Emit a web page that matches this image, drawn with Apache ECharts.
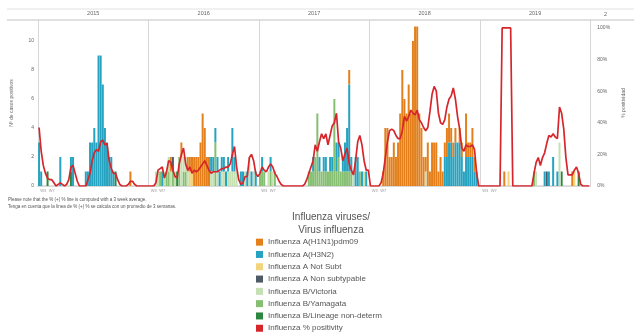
<!DOCTYPE html>
<html>
<head>
<meta charset="utf-8">
<script src="https://cdn.jsdelivr.net/npm/echarts@6/dist/echarts.min.js"></script>
<style>
html,body{margin:0;padding:0;background:#fff;}
#c{width:634px;height:332px;}
</style>
</head>
<body>
<div id="c"></div>
<script>
// ---- data ----
const years = ['2015', '2016', '2017', '2018', '2019'];
const WEEKS = 52;

// % positivity (3-week average), weeks 1..52 per year
const pct2015 = [37,22,13,8,5,4,4,2,0,1, 2,1,0,1,4,12,13,8,3,0, 0,0,0,4,8,16,21,23,22,28, 29,26,27,16,11,8,8,4,1,0, 0,0,1,3,3,1,0,0,0,0, 0,0];
const pct2016 = [0,0,0,2,10,11,12,5,9,16, 15,10,6,5,14,20,24,14,10,12, 8,10,9,10,12,14,16,13,10,8, 9,9,9,10,11,11,12,12,14,20, 25,12,4,1,2,6,6,18,20,16, 8,6];
const pct2017 = [8,12,10,9,12,14,12,8,6,3, 1,0,0,0,0,0,0,0,0,0, 0,1,4,8,12,16,26,22,28,33, 30,33,26,32,38,40,46,28,24,16, 20,24,14,10,7,16,28,32,26,16, 10,10];
const pct2018 = [0,0,0,0,0,2,8,18,28,35, 36,35,32,30,30,35,44,41,44,48, 46,45,48,42,40,37,35,37,47,58, 63,60,46,40,39,42,50,55,57,62, 55,44,36,24,22,26,25,25,26,23, 8,0];
const pct2019 = [0,0,0,0,0,0,0,0,0,0, 100,100,100,100,100,0,0,0,0,0, 0,0,0,0,0,8,15,18,13,18, 21,27,32,31,33,31,30,50,46,36, 18,7,7,7,10,12,8,1,0,0, 0,0];

// positive detections: [year, week, count]
const h1n1 = [
  [2015,44,1],
  [2016,11,1],[2016,16,1],[2016,19,1],[2016,20,1],[2016,21,1],[2016,22,2],[2016,23,2],[2016,24,2],[2016,25,3],[2016,26,5],[2016,27,4],[2016,28,2],[2016,29,2],
  [2017,43,1],
  [2018,7,1],[2018,8,4],[2018,9,4],[2018,10,2],[2018,11,2],[2018,12,3],[2018,13,2],[2018,14,3],[2018,15,5],[2018,16,8],
  [2018,17,6],[2018,18,5],[2018,19,7],[2018,20,5],[2018,21,10],[2018,22,11],[2018,23,11],[2018,24,5],[2018,25,4],[2018,26,2],
  [2018,27,1],[2018,28,3],[2018,29,1],[2018,30,3],[2018,31,3],[2018,32,3],[2018,33,1],[2018,34,2],[2018,35,1],[2018,36,1],
  [2018,37,2],[2018,38,2],[2018,39,1],[2018,40,1],[2018,41,1],[2018,43,1],[2018,44,1],[2018,46,3],[2018,47,1],[2018,48,1],
  [2018,49,2],[2018,50,1],
  [2019,12,1],[2019,44,1]
];
const h3n2 = [
  [2015,1,3],[2015,2,1],[2015,11,2],[2015,16,1],[2015,17,2],[2015,23,1],[2015,24,1],[2015,25,3],[2015,26,3],[2015,27,4],
  [2015,28,3],[2015,29,9],[2015,30,9],[2015,31,7],[2015,32,4],[2015,33,3],[2015,34,2],[2015,35,2],[2015,36,1],
  [2016,7,1],[2016,30,1],[2016,31,1],[2016,32,1],[2016,33,1],[2016,34,1],[2016,35,1],[2016,36,1],[2016,37,1],[2016,38,1],[2016,40,3],
  [2016,41,1],[2016,44,1],[2016,45,1],[2016,47,1],[2016,49,1],[2016,51,1],
  [2017,2,1],[2017,6,1],[2017,26,1],[2017,29,1],[2017,31,1],[2017,32,1],[2017,34,1],[2017,35,1],[2017,37,2],[2017,38,1],
  [2017,40,1],[2017,41,2],[2017,42,3],[2017,43,6],[2017,44,1],[2017,46,2],[2017,47,2],[2017,49,1],[2017,51,1],
  [2018,36,2],[2018,37,2],[2018,38,3],[2018,39,3],[2018,40,2],[2018,41,3],[2018,42,3],[2018,43,3],[2018,44,2],[2018,45,1],
  [2018,46,2],[2018,47,2],[2018,48,2],[2018,49,2],[2018,50,1],[2018,51,1],
  [2019,31,1],[2019,33,1],[2019,35,2],[2019,37,1]
];
const aNotSubt = [[2016,20,1],[2016,21,1],[2019,14,1],[2019,45,1]];
const aNonSubtypable = [[2016,12,1],[2019,32,1]];
const bVictoria = [
  [2016,4,1],[2016,5,1],[2016,8,1],[2016,10,1],[2016,11,1],[2016,13,1],[2016,16,2],[2016,17,1],[2016,18,1],[2016,19,1],
  [2016,30,1],[2016,31,1],[2016,33,1],[2016,35,1],[2016,36,1],[2016,38,1],[2016,39,1],[2016,40,1],[2016,41,1],[2016,42,1],
  [2016,46,1],[2016,48,2],[2016,50,1],
  [2017,5,1],[2017,7,1],[2017,45,1],[2017,50,1],
  [2018,27,1],
  [2019,27,1],[2019,38,3]
];
const bYamagata = [
  [2016,6,1],[2016,9,1],[2016,10,1],[2016,12,1],[2016,15,2],[2016,17,1],[2016,18,1],[2016,32,3],
  [2017,1,1],[2017,2,1],[2017,3,1],[2017,6,1],[2017,8,1],[2017,24,1],[2017,25,1],[2017,26,1],[2017,27,2],[2017,28,5],
  [2017,29,1],[2017,30,1],[2017,31,1],[2017,32,1],[2017,33,1],[2017,34,1],[2017,35,1],[2017,36,6],[2017,37,1],[2017,38,2],
  [2017,39,1],[2017,40,1],[2017,41,1],[2017,42,1],[2017,43,1],[2017,44,1],[2017,48,1],
  [2019,26,1]
];
const bLineageND = [[2015,5,1],[2015,16,1],[2015,37,1],[2016,14,1],[2019,39,1],[2019,47,1]];

const seriesNames = [
  'Influenza A(H1N1)pdm09', 'Influenza A(H3N2)', 'Influenza A Not Subt', 'Influenza A Non subtypable',
  'Influenza B/Victoria', 'Influenza B/Yamagata', 'Influenza B/Lineage non-determ', 'Influenza % positivity'
];
const colors = ['#E3801C', '#26A3C0', '#F2D47E', '#4E5A66', '#C5E1B3', '#86BF72', '#2E8740', '#D7262B'];

const notes = [
  'Please note that the % (+) % line is computed with a 3 week average.',
  'Tenga en cuenta que la línea de % (+) % se calcula con un promedio de 3 semanas.'
];

// ---- build ----
const weekCats = [];
years.forEach(y => { for (let w = 1; w <= WEEKS; w++) weekCats.push(y + '-W' + w); });
function toSeries(list) {
  const arr = new Array(years.length * WEEKS).fill(0);
  list.forEach(([y, w, v]) => { arr[years.indexOf(String(y)) * WEEKS + (w - 1)] = v; });
  return arr;
}
const pctAll = [].concat(pct2015, pct2016, pct2017, pct2018, pct2019);

const stackOrder = [
  [6, bLineageND], [5, bYamagata], [4, bVictoria], [3, aNonSubtypable], [2, aNotSubt], [1, h3n2], [0, h1n1]
];
const series = stackOrder.map(([i, list]) => ({
  name: seriesNames[i], type: 'bar', stack: 'v', xAxisIndex: 0, yAxisIndex: 0,
  barCategoryGap: '6%', itemStyle: { color: colors[i] }, data: toSeries(list)
}));
series.push({
  name: seriesNames[7], type: 'line', xAxisIndex: 0, yAxisIndex: 1, symbol: 'none', z: 5,
  lineStyle: { color: colors[7], width: 1.7 }, itemStyle: { color: colors[7] }, data: pctAll
});

const font = 'Liberation Sans, Arial, sans-serif';
const legendText = { fontSize: 8, color: '#555', lineHeight: 12.3, fontFamily: font };
const chart = echarts.init(document.getElementById('c'), null, { renderer: 'canvas' });
chart.setOption({
  animation: false,
  textStyle: { fontFamily: font },
  title: {
    text: 'Influenza viruses/\nVirus influenza', left: 326, top: 206, textAlign: 'center',
    textStyle: { fontSize: 10, fontWeight: 'normal', color: '#555', lineHeight: 13, fontFamily: font }
  },
  legend: [
    {
      data: seriesNames.slice(0, 7), orient: 'vertical', left: 256, top: 236, padding: 0,
      itemWidth: 7, itemHeight: 7, itemGap: 0, icon: 'rect', textStyle: legendText
    },
    {
      data: seriesNames.slice(7), orient: 'vertical', left: 256, top: 236 + 7 * 12.3, padding: 0,
      itemWidth: 7, itemHeight: 7, itemGap: 0, icon: 'rect', textStyle: legendText
    }
  ],
  grid: { left: 38, right: 31, top: 20, bottom: 146 },
  xAxis: [
    {
      type: 'category', data: weekCats, position: 'bottom', boundaryGap: true,
      axisLine: { show: true, lineStyle: { color: '#dcdcdc' } },
      axisTick: { show: false },
      axisLabel: {
        fontSize: 4, color: '#999', margin: 3,
        interval: (i) => (i % WEEKS === 2 || i % WEEKS === 6),
        formatter: (v, i) => 'W' + ((i % WEEKS) + 1)
      },
      splitLine: { show: false }
    },
    {
      type: 'category', data: years, position: 'top', boundaryGap: true,
      axisLine: { show: true, lineStyle: { color: '#d6d6d6', width: 1.5 } },
      axisTick: { show: true, length: 11, lineStyle: { color: '#d6d6d6' } },
      axisLabel: { fontSize: 5.5, color: '#666', margin: 4 },
      splitLine: { show: true, lineStyle: { color: '#d6d6d6' } }
    }
  ],
  yAxis: [
    {
      type: 'value', min: 0, max: 11.45, interval: 2, position: 'left',
      axisLine: { show: true, lineStyle: { color: '#d6d6d6' } }, axisTick: { show: false },
      axisLabel: { fontSize: 5, color: '#666', margin: 4, showMaxLabel: false },
      splitLine: { show: false },
      name: 'Nº de casos positivos', nameLocation: 'middle', nameGap: 24,
      nameTextStyle: { fontSize: 5, color: '#666' }
    },
    {
      type: 'value', min: 0, max: 105, interval: 20, position: 'right',
      axisLine: { show: true, lineStyle: { color: '#d6d6d6' } }, axisTick: { show: false },
      axisLabel: { fontSize: 5, color: '#666', margin: 7, showMaxLabel: false, formatter: '{value}%' },
      splitLine: { show: false },
      name: '% positividad', nameLocation: 'middle', nameGap: 26,
      nameTextStyle: { fontSize: 5, color: '#666' }
    }
  ],
  graphic: [
    { type: 'line', shape: { x1: 7, y1: 9, x2: 634, y2: 9 }, style: { stroke: '#e2e2e2', lineWidth: 1 }, silent: true },
    { type: 'line', shape: { x1: 7, y1: 20, x2: 634, y2: 20 }, style: { stroke: '#d6d6d6', lineWidth: 1.5 }, silent: true },
    { type: 'text', left: 604, top: 11, style: { text: '2', fontSize: 5.5, fill: '#666', fontFamily: font } },
    { type: 'text', left: 8, top: 197, style: { text: notes[0], fontSize: 4.5, fill: '#555', fontFamily: font } },
    { type: 'text', left: 8, top: 204, style: { text: notes[1], fontSize: 4.5, fill: '#555', fontFamily: font } }
  ],
  series: series
});
</script>
</body>
</html>
